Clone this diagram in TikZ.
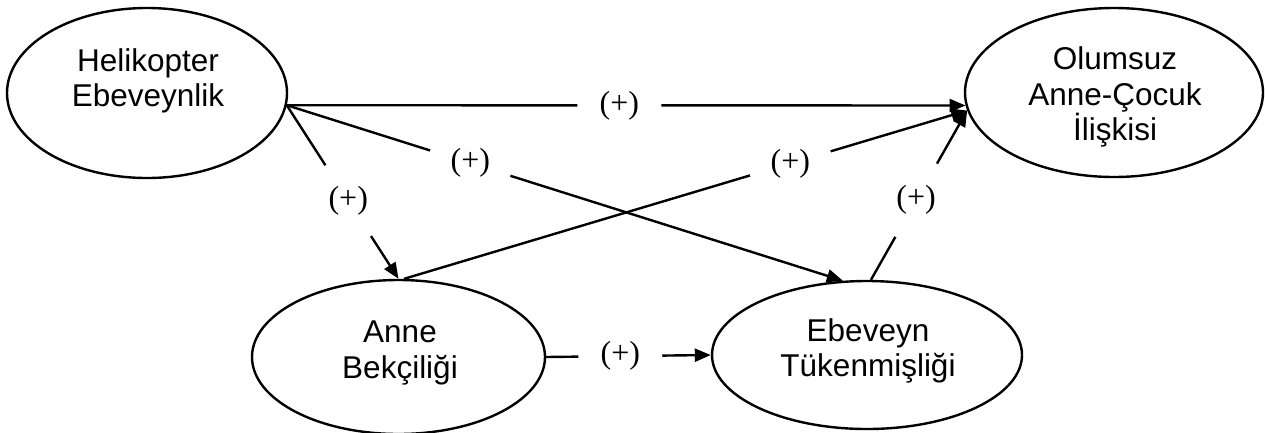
\documentclass[tikz,border=0pt]{standalone}
\usepackage{fontspec}
\setmainfont{Liberation Serif}
\newfontfamily\arialfont{Liberation Sans}
\usetikzlibrary{shapes.geometric,arrows.meta}
\begin{document}
\begin{tikzpicture}[x=1pt,y=-1pt,
  ell/.style={draw, ellipse, line width=2.4pt, inner sep=0pt},
  txt/.style={align=center, font=\arialfont\fontsize{31.5}{35.5}\selectfont, inner sep=0pt},
  conn/.style={line width=2.4pt, -{Triangle[length=16pt,width=13pt]}},
  lab/.style={circle, fill=white, minimum size=84pt, inner sep=0pt, font=\fontsize{32}{36}\selectfont}]
\fill[white] (0,0) rectangle (1265,432);
\useasboundingbox (0,0) rectangle (1265,432);
% ellipses
\node[ell, minimum width=280pt, minimum height=170pt] (H) at (147,93) {};
\node[ell, minimum width=298pt, minimum height=169pt] (O) at (1114,92.5) {};
\node[ell, minimum width=293pt, minimum height=154pt] (AB) at (398.5,357) {};
\node[ell, minimum width=310pt, minimum height=148pt] (ET) at (867,355) {};
% texts
\node[txt] (Ht) at (148,81) {Helikopter\\Ebeveynlik};
\node[txt] (Ot) at (1115,97) {Olumsuz\\Anne-Çocuk\\İlişkisi};
\node[txt] (ABt) at (400,353) {Anne\\Bekçiliği};
\node[txt] (ETt) at (868,351) {Ebeveyn\\Tükenmişliği};
% connectors
\draw[conn] (H.-5) -- node[lab,pos=0.49] (l1) {(+)} (O.185);
\draw[conn] (H.-5) -- node[lab,pos=0.33] (l2) {(+)} (ET.108);
\draw[conn] (H.-5) -- node[lab,pos=0.55] (l3) {(+)} (AB.north);
\draw[conn] (AB.86) -- node[lab,pos=0.686] (l4) {(+)} (O.187);
\draw[conn] (ET.87) -- node[lab,pos=0.47] (l5) {(+)} (O.187);
\draw[conn] (AB.east) -- node[lab,pos=0.45] (l6) {(+)} (ET.west);
\end{tikzpicture}
\end{document}
